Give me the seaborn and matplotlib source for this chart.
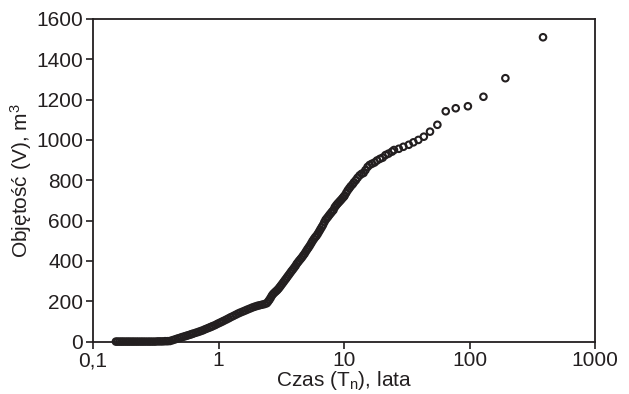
import numpy as np
import pandas as pd
import seaborn as sns
from matplotlib import pyplot as plt

# return period (years) and volume (m3)
# lower, densely packed part of the curve
time_dense = [
    0.152, 0.157, 0.163, 0.169, 0.175, 0.182, 0.189, 0.196, 0.204, 0.212,
    0.221, 0.230, 0.240, 0.250, 0.261, 0.273, 0.285, 0.298, 0.312, 0.327,
    0.342, 0.358, 0.375, 0.392,
    0.41, 0.43, 0.45, 0.47, 0.49, 0.51, 0.53, 0.55, 0.57, 0.59,
    0.61, 0.63, 0.66, 0.69, 0.72, 0.75, 0.78, 0.81, 0.84, 0.87,
    0.90, 0.94, 0.98, 1.02, 1.06, 1.10, 1.15, 1.20, 1.25, 1.31,
    1.37, 1.43, 1.49, 1.56, 1.63, 1.70, 1.78, 1.86, 1.94, 2.03,
    2.12, 2.22, 2.32, 2.42,
    2.48, 2.54, 2.60, 2.66, 2.72, 2.79, 2.86, 2.93, 3.00, 3.07,
    3.14, 3.22, 3.30, 3.38, 3.46, 3.54, 3.63, 3.72, 3.81, 3.90,
    4.00, 4.10, 4.20, 4.30, 4.40, 4.51, 4.62, 4.73, 4.85, 4.97,
    5.09, 5.21, 5.34, 5.47, 5.60, 5.74, 5.88, 6.02, 6.17, 6.32,
    6.47, 6.63, 6.79, 6.96, 7.13, 7.30, 7.48, 7.66, 7.85, 8.04,
    8.23, 8.43, 8.64, 8.85, 9.06, 9.28, 9.51, 9.74, 9.98,
]
volume_dense = [
    0, 0, 0, 0, 0, 0, 0, 0, 0, 0,
    0, 0, 0, 0, 0, 0, 0, 0, 0, 1,
    1, 1, 2, 2,
    3, 7, 11, 15, 18, 22, 25, 28, 31, 34,
    37, 40, 44, 48, 52, 56, 61, 65, 69, 73,
    77, 82, 88, 93, 98, 103, 109, 115, 121, 127,
    133, 139, 144, 149, 154, 159, 164, 169, 173, 177,
    180, 183, 186, 190,
    198, 207, 217, 228, 236, 243, 249, 255, 262, 270,
    278, 287, 296, 305, 313, 322, 331, 340, 349, 357,
    366, 375, 386, 394, 402, 410, 418, 427, 436, 447,
    457, 466, 476, 487, 498, 508, 517, 524, 534, 545,
    556, 567, 578, 592, 604, 612, 620, 629, 637, 645,
    652, 666, 675, 683, 690, 697, 704, 712, 719,
]

# upper part, where single events can be told apart
time_sparse = [
    10.1, 10.4, 10.7, 11.0, 11.3, 11.7, 12.0, 12.4, 12.8, 13.3,
    13.8, 14.3, 14.8, 15.4, 16.0, 16.7, 17.5, 18.3, 19.3, 20.3,
    21.4, 22.6, 24.1, 25.0, 27.3, 29.7, 32.8, 35.7, 39.1, 43.2,
    48.4, 55.4, 64.6, 77.6, 97.0, 129.0, 193.0, 385.0,
]
volume_sparse = [
    724, 737, 750, 760, 770, 780, 790, 800, 812, 824,
    832, 836, 850, 866, 876, 882, 888, 898, 906, 912,
    925, 932, 942, 950, 956, 966, 976, 988, 1000, 1016,
    1041, 1075, 1142, 1157, 1167, 1214, 1306, 1509,
]

x_ticks = [0.1, 1, 10, 100, 1000]
x_tick_labels = ["0,1", "1", "10", "100", "1000"]
y_ticks = [0, 200, 400, 600, 800, 1000, 1200, 1400, 1600]

ink = "#231f20"

df = pd.DataFrame({
    "T": time_dense + time_sparse,
    "V": volume_dense + volume_sparse,
})

sns.set_theme(style="ticks")
plt.rcParams["font.family"] = ["Liberation Sans", "DejaVu Sans"]
plt.rcParams["mathtext.default"] = "regular"
plt.rcParams["text.color"] = ink
plt.rcParams["axes.labelcolor"] = ink
plt.rcParams["xtick.color"] = ink
plt.rcParams["ytick.color"] = ink

fig = plt.figure(figsize=(6.29, 3.94), dpi=100)
ax = fig.add_axes([0.148, 0.133, 0.798, 0.819])

sns.scatterplot(
    data=df, x="T", y="V", ax=ax,
    marker="o", s=22, facecolor="none", edgecolor=ink, linewidth=1.5,
    clip_on=False, zorder=3,
)

ax.set_xscale("log")
ax.set_xlim(0.1, 1000)
ax.set_ylim(0, 1600)
ax.set_xticks(x_ticks, x_tick_labels)
ax.set_yticks(y_ticks)
ax.minorticks_off()
ax.tick_params(labelsize=15, length=5, width=1.2, pad=2)

for side in ["left", "right", "top", "bottom"]:
    ax.spines[side].set_visible(True)
    ax.spines[side].set_linewidth(1.3)
    ax.spines[side].set_color(ink)

ax.set_xlabel("Czas (T$_{n}$), lata", fontsize=15, labelpad=-1)
ax.set_ylabel("Objętość (V), m$^{3}$", fontsize=15, labelpad=2)

fig.savefig("out.png", dpi=100)
